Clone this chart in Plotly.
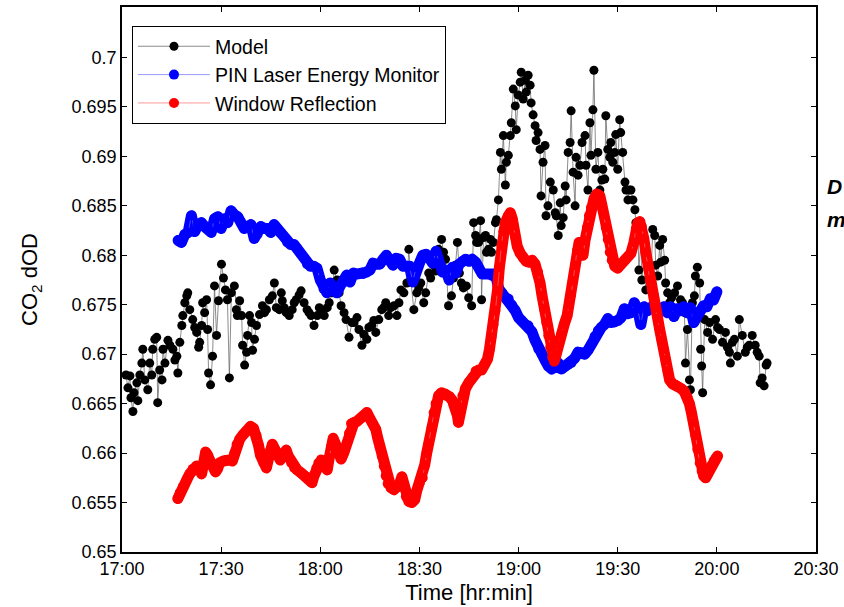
import plotly.graph_objects as go

# ---- axis ticks ----
x_tick_vals = [0, 30, 60, 90, 120, 150, 180, 210]          # minutes after 17:00
x_tick_text = ["17:00", "17:30", "18:00", "18:30", "19:00", "19:30", "20:00", "20:30"]
y_tick_vals = [0.65, 0.655, 0.66, 0.665, 0.67, 0.675, 0.68, 0.685, 0.69, 0.695, 0.7]
y_tick_text = ["0.65", "0.655", "0.66", "0.665", "0.67", "0.675", "0.68", "0.685", "0.69", "0.695", "0.7"]

# ---- Model (minutes after 17:00, CO2 dOD) ----
model_t = [1.2,1.8,2.4,2.7,3.3,3.6,4.5,4.8,5.4,6.0,
           6.3,6.9,7.8,8.4,9.0,9.3,9.9,10.5,10.8,11.4,
           12.1,12.4,13.0,13.9,14.5,15.4,16.0,16.6,16.9,17.5,
           18.1,18.4,19.0,19.6,19.9,20.5,21.4,22.0,22.6,23.2,
           23.5,24.1,24.4,25.0,25.6,25.9,26.2,26.8,27.4,28.0,
           28.6,29.2,30.1,30.7,31.3,31.9,32.5,33.1,34.0,34.6,
           34.9,35.6,36.2,36.5,37.1,37.7,38.0,38.6,39.2,39.5,
           40.1,40.7,41.6,42.5,43.1,43.7,44.6,45.5,46.1,46.7,
           47.6,48.2,48.5,49.1,49.7,50.6,51.5,52.1,52.7,53.6,
           54.2,55.1,56.0,56.6,57.2,58.1,59.1,59.7,60.3,61.2,
           62.1,62.7,63.6,64.2,65.1,65.7,66.3,67.2,67.8,68.7,
           69.6,70.2,71.1,71.7,72.6,73.2,74.1,74.7,75.6,76.2,
           76.8,77.7,78.6,79.2,79.8,80.7,81.3,82.3,83.2,83.8,
           84.4,85.3,86.2,86.8,87.4,88.3,89.2,89.8,90.4,91.3,
           91.9,92.8,93.4,94.3,94.9,95.8,96.7,97.3,97.9,98.8,
           99.7,100.3,100.9,101.5,102.1,102.7,103.3,104.2,104.9,105.8,
           106.4,107.0,107.3,107.9,108.5,108.8,109.4,110.0,110.3,110.9,
           111.5,111.8,112.4,113.0,113.3,113.9,114.5,114.8,115.4,116.0,
           116.3,116.9,117.5,117.8,118.4,119.0,119.3,119.9,120.5,120.8,
           121.4,122.0,122.3,122.9,123.5,123.8,124.4,125.0,125.3,125.9,
           126.5,126.8,127.4,128.0,128.3,128.9,129.6,130.5,131.1,131.4,
           132.0,132.6,132.9,133.5,134.1,134.4,135.0,135.6,135.9,136.5,
           137.1,137.4,138.0,138.6,139.2,140.1,140.4,141.0,141.6,141.9,
           142.5,142.8,143.4,144.0,144.6,145.2,145.5,146.1,146.4,147.0,
           147.6,147.9,148.5,149.1,149.4,150.0,150.6,150.9,151.5,152.2,
           152.5,153.1,153.4,154.0,154.6,155.2,155.5,156.1,156.4,157.0,
           157.3,158.2,158.5,159.1,159.7,160.0,160.6,161.2,161.5,162.1,
           162.7,163.0,163.6,164.2,164.5,165.1,165.7,166.3,167.2,168.1,
           168.7,169.0,169.6,170.2,170.5,171.1,171.7,172.0,172.6,173.2,
           173.5,174.1,174.8,175.1,175.4,175.7,176.3,177.2,177.8,178.7,
           179.6,180.2,180.8,181.7,182.6,183.2,183.8,184.1,184.7,185.3,
           186.2,186.8,187.7,188.6,189.2,189.8,190.7,191.6,192.2,192.8,
           193.1,193.7,194.3,194.9,195.2]
model_v = [.6679,.6666,.6678,.6656,.6642,.6661,.6671,.6653,.6679,.6691,
           .6705,.6674,.6664,.6691,.6679,.6705,.6715,.6717,.6651,.6684,
           .6674,.6705,.6691,.6714,.6709,.6705,.6694,.6698,.6681,.6712,
           .6729,.6739,.6752,.6759,.6762,.6745,.6735,.6727,.6722,.6707,
           .6712,.6729,.6752,.6742,.6755,.6725,.6681,.6669,.6698,.6769,
           .6719,.6754,.6791,.6777,.6765,.6755,.6676,.6762,.6769,.6745,
           .6739,.6754,.6739,.6709,.6689,.6702,.6719,.6739,.6732,.6704,
           .6715,.6729,.6740,.6749,.6742,.6745,.6755,.6759,.6772,.6747,
           .6745,.6762,.6754,.6747,.6742,.6739,.6745,.6752,.6755,.6760,
           .6764,.6752,.6745,.6742,.6739,.6729,.6739,.6747,.6745,.6739,
           .6747,.6752,.6762,.6785,.6775,.6762,.6749,.6742,.6735,.6717,
           .6732,.6732,.6737,.6725,.6709,.6720,.6715,.6727,.6729,.6734,
           .6722,.6735,.6745,.6747,.6752,.6739,.6747,.6749,.6739,.6752,
           .6765,.6762,.6772,.6806,.6775,.6745,.6762,.6767,.6772,.6752,
           .6762,.6782,.6777,.6790,.6784,.6806,.6816,.6803,.6796,.6749,
           .6759,.6777,.6790,.6813,.6782,.6772,.6767,.6769,.6757,.6749,
           .6833,.6820,.6813,.6813,.6835,.6755,.6818,.6820,.6803,.6806,
           .6816,.6803,.6813,.6833,.6836,.6856,.6904,.6887,.6921,.6871,
           .6894,.6901,.6921,.6934,.6968,.6951,.6927,.6962,.6975,.6985,
           .6958,.6977,.6965,.6982,.6972,.6954,.6942,.6931,.6916,.6924,
           .6907,.6860,.6894,.6911,.6840,.6850,.6874,.6866,.6843,.6840,
           .6820,.6853,.6830,.6838,.6870,.6856,.6904,.6914,.6946,.6884,
           .6850,.6899,.6881,.6891,.6914,.6921,.6891,.6866,.6934,.6901,
           .6947,.6987,.6887,.6904,.6866,.6876,.6887,.6877,.6941,.6907,
           .6899,.6914,.6894,.6904,.6922,.6887,.6937,.6924,.6904,.6874,
           .6866,.6856,.6866,.6866,.6856,.6846,.6833,.6830,.6785,.6816,
           .6775,.6806,.6765,.6790,.6782,.6772,.6826,.6820,.6790,.6779,
           .6810,.6793,.6816,.6795,.6772,.6762,.6752,.6757,.6762,.6769,
           .6747,.6755,.6752,.6742,.6691,.6725,.6674,.6664,.6752,.6759,
           .6779,.6788,.6772,.6705,.6688,.6661,.6735,.6722,.6732,.6715,
           .6735,.6727,.6725,.6712,.6722,.6707,.6702,.6691,.6712,.6715,
           .6698,.6735,.6719,.6702,.6707,.6709,.6719,.6709,.6702,.6698,
           .6671,.6676,.6668,.6689,.6691]

# ---- PIN Laser Energy Monitor ----
pin_t = [17,18,19,20,21,22,23,24,25,26,
         27,28,29,30,31,32,33,34,35,36,
         37,38,39,40,41,42,43,44,45,46,
         47,48,49,50,51,52,53,54,55,56,
         57,58,59,60,61,62,63,64,65,66,
         67,68,69,70,71,72,73,74,75,76,
         77,78,79,80,81,82,83,84,85,86,
         87,88,89,90,91,92,93,94,95,96,
         97,98,99,100,101,102,103,104,105,106,
         107,108,109,110,111,112,113,114,115,116,
         117,118,119,120,121,122,123,124,125,126,
         127,128,129,130,131,132,133,134,135,136,
         137,138,139,140,141,142,143,144,145,146,
         147,148,149,150,151,152,153,154,155,156,
         157,158,159,160,161,162,163,164,165,166,
         167,168,169,170,171,172,173,174,175,176,
         177,178,179,180]
pin_v = [.6815,.6813,.6821,.6823,.6840,.6824,.6831,.6833,.6829,.6827,
         .6823,.6837,.6839,.6827,.6837,.6833,.6845,.6841,.6839,.6833,
         .6827,.6829,.6831,.6817,.6821,.6829,.6827,.6827,.6823,.6831,
         .6827,.6822,.6819,.6813,.6811,.6811,.6807,.6802,.6798,.6791,
         .6789,.6789,.6787,.6775,.6766,.6762,.6772,.6764,.6762,.6769,
         .6774,.6780,.6773,.6782,.6781,.6781,.6781,.6783,.6785,.6792,
         .6791,.6791,.6796,.6800,.6795,.6790,.6797,.6796,.6789,.6789,
         .6789,.6773,.6788,.6792,.6800,.6801,.6797,.6792,.6804,.6792,
         .6783,.6785,.6775,.6788,.6782,.6791,.6794,.6796,.6794,.6796,
         .6793,.6787,.6781,.6781,.6781,.6779,.6781,.6766,.6762,.6758,
         .6756,.6750,.6744,.6737,.6734,.6730,.6729,.6723,.6714,.6705,
         .6700,.6694,.6688,.6685,.6687,.6691,.6685,.6687,.6689,.6691,
         .6696,.6702,.6702,.6700,.6704,.6710,.6718,.6724,.6727,.6730,
         .6736,.6732,.6732,.6734,.6737,.6746,.6741,.6742,.6752,.6746,
         .6730,.6748,.6744,.6746,.6750,.6746,.6744,.6748,.6742,.6748,
         .6738,.6746,.6744,.6748,.6742,.6747,.6732,.6738,.6744,.6749,
         .6748,.6756,.6755,.6763]

# ---- Window Reflection ----
win_t = [16.9,17.5,18.4,19.6,20.5,21.4,22.6,23.5,24.1,24.7,
         25.3,25.9,26.5,27.4,28.3,28.9,29.5,30.7,31.6,32.5,
         33.4,34.0,34.7,35.6,36.5,37.7,38.9,39.8,40.7,41.3,
         41.9,42.8,43.7,44.3,44.9,45.5,46.4,47.0,47.9,48.8,
         49.7,50.3,51.2,52.1,53.0,54.2,55.4,56.6,57.5,58.1,
         58.8,59.4,60.3,61.2,62.1,62.7,63.3,63.9,64.5,65.1,
         65.7,66.3,67.2,68.1,68.7,69.3,70.2,71.1,72.3,73.2,
         74.1,75.0,75.9,76.8,77.4,78.0,78.6,79.2,79.8,80.4,
         81.4,82.3,83.2,84.1,84.7,85.3,85.9,86.8,87.7,88.6,
         89.2,90.1,91.0,91.6,92.2,92.8,93.7,94.3,94.9,95.8,
         96.7,97.9,99.1,100.0,100.9,101.5,101.8,102.4,103.0,103.9,
         104.9,106.1,107.0,107.9,108.8,109.7,110.6,111.2,111.8,112.4,
         113.0,113.6,114.2,114.8,115.4,116.0,116.9,117.5,118.1,118.4,
         119.0,119.6,120.5,121.4,122.3,123.2,124.1,125.0,125.9,126.5,
         127.1,127.7,128.4,129.0,129.6,130.2,130.8,131.4,132.0,132.9,
         133.8,134.7,135.3,135.9,136.5,137.1,137.7,138.3,138.9,139.5,
         140.1,140.7,141.3,141.9,142.8,143.7,144.6,145.2,145.8,146.4,
         147.0,147.6,148.2,149.1,150.0,150.9,152.2,153.1,154.0,154.9,
         155.5,156.1,156.7,157.3,157.9,158.5,159.1,159.7,160.3,160.9,
         161.5,162.1,162.7,163.3,163.9,164.5,165.1,165.7,166.6,167.5,
         168.4,169.3,170.2,171.1,171.7,172.3,172.9,173.5,174.1,174.8,
         175.4,176.0,176.6,177.2,177.8,178.4,179.0,179.6,180.2]
win_v = [.6554,.6560,.6566,.6573,.6579,.6584,.6587,.6584,.6579,.6590,
         .6601,.6598,.6593,.6587,.6581,.6584,.6590,.6592,.6593,.6593,
         .6592,.6600,.6609,.6614,.6618,.6622,.6627,.6625,.6618,.6608,
         .6598,.6590,.6585,.6594,.6603,.6609,.6603,.6597,.6593,.6598,
         .6603,.6597,.6590,.6585,.6583,.6580,.6577,.6573,.6570,.6577,
         .6585,.6590,.6593,.6588,.6583,.6595,.6607,.6615,.6610,.6606,
         .6600,.6594,.6601,.6610,.6620,.6630,.6631,.6632,.6635,.6638,
         .6641,.6635,.6630,.6624,.6615,.6606,.6597,.6587,.6577,.6569,
         .6565,.6563,.6565,.6570,.6576,.6565,.6556,.6551,.6550,.6553,
         .6562,.6570,.6575,.6588,.6600,.6610,.6626,.6641,.6650,.6658,
         .6661,.6660,.6657,.6653,.6647,.6638,.6631,.6646,.6658,.6665,
         .6671,.6677,.6683,.6684,.6684,.6689,.6695,.6705,.6717,.6730,
         .6744,.6764,.6788,.6810,.6824,.6833,.6840,.6843,.6837,.6830,
         .6818,.6809,.6802,.6797,.6794,.6793,.6795,.6791,.6783,.6772,
         .6759,.6746,.6732,.6719,.6707,.6697,.6693,.6700,.6710,.6720,
         .6730,.6739,.6750,.6760,.6774,.6790,.6805,.6813,.6803,.6800,
         .6815,.6828,.6840,.6848,.6857,.6862,.6860,.6851,.6841,.6828,
         .6816,.6803,.6795,.6789,.6787,.6791,.6796,.6799,.6802,.6813,
         .6827,.6833,.6834,.6829,.6817,.6803,.6789,.6775,.6765,.6757,
         .6747,.6736,.6725,.6714,.6705,.6694,.6683,.6674,.6670,.6669,
         .6667,.6665,.6662,.6657,.6650,.6641,.6631,.6618,.6604,.6590,
         .6582,.6577,.6575,.6578,.6583,.6588,.6592,.6595,.6597]

assert len(model_t) == len(model_v)
assert len(pin_t) == len(pin_v)
assert len(win_t) == len(win_v)

FONT = "Liberation Sans, Arial, Helvetica, sans-serif"
BLUE = "rgb(0,0,255)"
RED = "rgb(255,0,0)"

fig = go.Figure()
fig.add_trace(go.Scatter(
    x=model_t, y=model_v, mode="lines+markers", name="Model",
    line=dict(color="rgb(90,90,90)", width=0.7),
    marker=dict(color="black", size=9, line=dict(width=0)),
))
# wide sample band under the PIN markers (same data, no legend entry)
fig.add_trace(go.Scatter(
    x=pin_t, y=pin_v, mode="lines", showlegend=False, hoverinfo="skip",
    line=dict(color=BLUE, width=11),
))
fig.add_trace(go.Scatter(
    x=pin_t, y=pin_v, mode="lines+markers", name="PIN Laser Energy Monitor",
    line=dict(color="rgb(110,110,255)", width=0.7),
    marker=dict(color=BLUE, size=10, line=dict(width=0)),
))
fig.add_trace(go.Scatter(
    x=win_t, y=win_v, mode="lines", showlegend=False, hoverinfo="skip",
    line=dict(color=RED, width=11),
))
fig.add_trace(go.Scatter(
    x=win_t, y=win_v, mode="lines+markers", name="Window Reflection",
    line=dict(color="rgb(255,110,110)", width=0.7),
    marker=dict(color=RED, size=10, line=dict(width=0)),
))

axis_common = dict(
    showline=True, linecolor="black", linewidth=1.5, mirror="ticks",
    ticks="inside", ticklen=5, tickwidth=1, tickcolor="black",
    showgrid=False, zeroline=False,
    tickfont=dict(family=FONT, size=18, color="black"),
)

fig.update_xaxes(
    range=[0, 210], tickmode="array", tickvals=x_tick_vals, ticktext=x_tick_text,
    title=dict(text="Time [hr:min]", font=dict(family=FONT, size=22, color="black"), standoff=6),
    **axis_common,
)
fig.update_yaxes(
    range=[0.65, 0.7051], tickmode="array", tickvals=y_tick_vals, ticktext=y_tick_text,
    title=dict(text="CO<sub>2</sub> dOD", font=dict(family=FONT, size=22, color="black"), standoff=28),
    **axis_common,
)

fig.add_annotation(x=1.013, y=0.671, xref="paper", yref="paper", xanchor="left", yanchor="middle",
                   text="<b><i>D</i></b>", showarrow=False,
                   font=dict(family=FONT, size=21, color="black"))
fig.add_annotation(x=1.013, y=0.611, xref="paper", yref="paper", xanchor="left", yanchor="middle",
                   text="<b><i>m</i></b>", showarrow=False,
                   font=dict(family=FONT, size=21, color="black"))

fig.update_layout(
    width=844, height=607,
    margin=dict(l=122, r=26, t=5, b=55, pad=0),
    paper_bgcolor="white", plot_bgcolor="white",
    font=dict(family=FONT, size=18, color="black"),
    showlegend=True,
    legend=dict(
        x=0.0144, y=0.965, xanchor="left", yanchor="top",
        bgcolor="white", bordercolor="black", borderwidth=1,
        font=dict(family=FONT, size=19.5, color="black"),
        itemwidth=72, tracegroupgap=0,
    ),
)

round_joins = """
var s = document.createElement('style');
s.innerHTML = '.scatterlayer .js-line{stroke-linejoin:round !important;stroke-linecap:round !important;}';
document.head.appendChild(s);
"""
fig.write_html("out.html", post_script=round_joins)
